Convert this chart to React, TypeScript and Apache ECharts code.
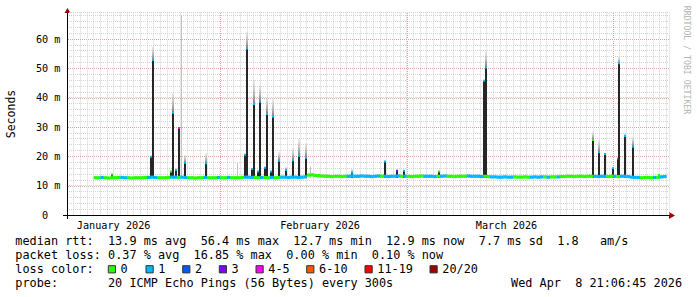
import React, { useEffect, useRef } from 'react';
import * as echarts from 'echarts';

// ---------- data ----------
const lossLabels = ['0', '1', '2', '3', '4-5', '6-10', '11-19', '20/20'];
const lossColors = ['#26ff00', '#00b8ff', '#0059ff', '#7e00ff', '#ff00ff', '#ff5500', '#ff0000', '#a00000'];

// x axis is "days since 2026-01-01 00:00"
const xMinDay = 8;
const xMaxDay = 98.4;
const yMaxMs = 69;
const monthStartDays = [31, 59, 90];
const monthLabelDays = [15, 46, 74];
const monthLabelTexts = ['January 2026', 'February 2026', 'March 2026'];
const yMajorTicks = [10, 20, 30, 40, 50, 60];

// median rtt (ms), one sample per half day starting at day 12
const medianStartDay = 12;
const medianStepDays = 0.5;
const medianValues = [
  12.7, 12.7, 12.8, 12.7, 12.6, 12.7, 12.7, 12.8, 12.8, 12.7, 12.7, 12.6, 12.7, 12.7, 12.7, 12.8,
  12.8, 12.9, 12.8, 12.7, 12.7, 12.7, 12.8, 12.9, 12.9, 12.8, 12.9, 12.8, 12.7, 12.7, 12.6, 12.7,
  12.7, 12.8, 12.7, 12.7, 12.7, 12.8, 12.7, 12.7, 12.8, 12.7, 12.7, 12.7, 12.8, 12.9, 12.9, 12.8,
  12.8, 12.7, 12.8, 12.8, 12.7, 12.8, 12.7, 12.8, 12.9, 12.9, 12.8, 12.9, 12.9, 12.8, 12.9, 13.0,
  13.6, 13.7, 13.5, 13.4, 13.3, 13.2, 13.2, 13.1, 13.2, 13.2, 13.1, 13.2, 13.2, 13.3, 13.2, 13.2,
  13.3, 13.2, 13.2, 13.1, 13.2, 13.3, 13.2, 13.2, 13.1, 13.2, 13.2, 13.3, 13.2, 13.2, 13.2, 13.1,
  13.2, 13.2, 13.3, 13.2, 13.2, 13.2, 13.1, 13.2, 13.2, 13.3, 13.2, 13.2, 13.1, 13.2, 13.2, 13.2,
  13.3, 13.2, 13.2, 13.2, 13.1, 13.2, 13.1, 13.0, 13.0, 12.9, 12.9, 13.0, 12.9, 12.9, 13.0, 12.9,
  12.9, 13.0, 12.9, 12.9, 13.0, 12.9, 13.0, 13.0, 12.9, 13.0, 13.0, 13.0, 13.1, 13.1, 13.2, 13.2,
  13.1, 13.2, 13.2, 13.1, 13.2, 13.2, 13.2, 13.1, 13.2, 13.2, 13.1, 13.2, 13.2, 13.1, 13.2, 13.2,
  13.1, 12.9, 12.8, 12.8, 12.7, 12.8, 12.8, 12.7, 12.8, 12.8, 13.0, 13.1,
];
// lost pings per sample (index into lossColors)
const medianLoss = [
  0, 0, 1, 0, 0, 0, 0, 0, 1, 1, 0, 0, 0, 0, 0, 0, 1, 1, 1, 0,
  0, 0, 0, 1, 1, 0, 1, 1, 0, 0, 0, 0, 0, 1, 0, 0, 0, 1, 0, 0,
  1, 0, 0, 0, 0, 1, 1, 1, 0, 0, 1, 0, 0, 1, 0, 0, 1, 1, 1, 1,
  1, 1, 1, 1, 0, 0, 0, 0, 0, 0, 0, 0, 0, 0, 0, 0, 1, 1, 1, 1,
  1, 1, 1, 1, 1, 1, 0, 1, 1, 1, 1, 1, 0, 1, 0, 0, 0, 0, 0, 1,
  1, 1, 1, 0, 1, 1, 0, 0, 0, 0, 0, 0, 1, 1, 1, 1, 1, 0, 0, 1,
  1, 1, 1, 1, 1, 1, 0, 0, 0, 0, 0, 1, 1, 1, 1, 0, 1, 0, 0, 1,
  0, 0, 0, 0, 0, 0, 0, 0, 0, 0, 1, 1, 1, 1, 0, 0, 1, 0, 1, 1,
  1, 1, 1, 1, 0, 0, 0, 0, 1, 0, 1, 1,
];

// latency spikes: dense smoke up to spikeHighs, faint smoke up to spikeTops (ms)
const spikeBaseMs = 12.6;
const spikeDays = [
  14.78, 20.63, 20.93, 23.64, 23.86, 24.39, 24.84, 25.74, 28.89,
  34.75, 34.97, 35.80, 36.02, 36.70, 36.92, 37.75, 37.97, 38.65, 38.95, 39.85, 40.90, 41.95, 42.87, 43.91,
  50.74, 55.77, 57.57, 58.55, 63.80, 70.63, 70.86,
  87.0, 87.9, 88.8, 90.0, 90.68, 90.9, 91.8, 93.0, 96.9,
];
const spikeHighs = [
  13.8, 19.9, 52.8, 14.8, 34.9, 15.3, 29.7, 17.8, 17.6,
  20.5, 56.8, 15.7, 37.8, 14.8, 38.6, 16.1, 34.4, 14.8, 33.5, 18.5, 15.3, 18.7, 20.2, 19.5,
  14.4, 18.2, 15.1, 15.1, 14.8, 45.8, 50.3,
  25.6, 21.4, 20.8, 15.9, 19.3, 51.7, 26.9, 23.3, 13.6,
];
const spikeTops = [
  14.2, 20.2, 57.5, 15.0, 41.6, 16.0, 30.0, 20.5, 21.1,
  20.5, 62.5, 15.7, 46.0, 14.8, 44.3, 16.1, 40.2, 14.8, 39.5, 21.6, 16.4, 22.8, 26.2, 24.5,
  15.7, 18.4, 15.1, 15.1, 14.8, 46.0, 55.7,
  28.4, 25.6, 21.0, 15.9, 19.3, 54.0, 27.8, 26.7, 13.6,
];
const spikeCapLoss = [
  0, 1, 1, 0, 1, 1, 4, 1, 1,
  1, 1, 1, 1, 1, 1, 1, 1, 1, 1, 1, 1, 1, 1, 1,
  1, 1, 3, 1, 0, 1, 1,
  0, 1, 1, 1, 1, 1, 1, 1, 0,
];
// isolated faint smoke (single slow pings)
const faintDays = [25.06, 33.55, 44.5];
const faintTops = [68.2, 17.7, 16.5];

const statRows = [
  'median rtt:  13.9 ms avg  56.4 ms max  12.7 ms min  12.9 ms now  7.7 ms sd  1.8   am/s',
  'packet loss: 0.37 % avg  16.85 % max  0.00 % min  0.10 % now',
  'loss color:',
  'probe:       20 ICMP Echo Pings (56 Bytes) every 300s',
];
const probeTime = 'Wed Apr  8 21:06:45 2026';
const yAxisTitle = 'Seconds';
const watermark = 'RRDTOOL / TOBI OETIKER';

// ---------- layout ----------
const MONO = '"DejaVu Sans Mono", monospace';
const LEG_FS = 11.85;
const LEG_CW = 7.13;
const LEG_X0 = 15.3;
const ROW_Y = [241, 255, 269, 283];
const lossBoxX = [108.3, 146, 182.7, 219.3, 256, 306.7, 365, 430];

function tokens(line: string, x0: number, y: number) {
  const out: any[] = [];
  const re = /\S+(?: \S+)*/g;
  let m: RegExpExecArray | null;
  while ((m = re.exec(line))) {
    out.push({
      type: 'text',
      x: x0 + m.index * LEG_CW,
      y,
      silent: true,
      style: { text: m[0], font: `${LEG_FS}px ${MONO}`, fill: '#000', verticalAlign: 'middle', align: 'left' },
    });
  }
  return out;
}

const majorColor = '#e3a1a1';
function majorLine(x1: number, y1: number, x2: number, y2: number) {
  return {
    type: 'group',
    children: [
      { type: 'line', shape: { x1, y1, x2, y2 }, style: { stroke: '#fff', lineWidth: 1 } },
      { type: 'line', shape: { x1, y1, x2, y2 }, style: { stroke: majorColor, lineWidth: 1, lineDash: [1, 1] } },
    ],
  };
}

export default function App() {
  const ref = useRef<HTMLDivElement>(null);
  useEffect(() => {
    const chart = echarts.init(ref.current!, null, { renderer: 'svg' });

    const graphics: any[] = [];
    statRows.forEach((row, i) => graphics.push(...tokens(row, LEG_X0, ROW_Y[i])));
    graphics.push(...tokens(probeTime, 511, ROW_Y[3]));
    lossLabels.forEach((lab, i) => {
      graphics.push({
        type: 'rect',
        shape: { x: lossBoxX[i], y: 265.7, width: 7.2, height: 7.2 },
        style: { fill: lossColors[i], stroke: '#333', lineWidth: 1 },
        silent: true,
      });
      graphics.push({
        type: 'text',
        x: lossBoxX[i] + 12.3,
        y: ROW_Y[2],
        silent: true,
        style: { text: lab, font: `${LEG_FS}px ${MONO}`, fill: '#000', verticalAlign: 'middle', align: 'left' },
      });
    });
    graphics.push({
      type: 'text', x: 11, y: 114, rotation: Math.PI / 2, silent: true,
      style: { text: yAxisTitle, font: `11.5px ${MONO}`, fill: '#000', align: 'center', verticalAlign: 'middle' },
    });
    graphics.push({
      type: 'text', x: 686.5, y: 60, rotation: -Math.PI / 2, silent: true,
      style: { text: watermark, font: `8.2px ${MONO}`, fill: '#b4b4b4', align: 'center', verticalAlign: 'middle' },
    });
    // axis extensions and arrows
    graphics.push({ type: 'line', silent: true, shape: { x1: 63, y1: 215.5, x2: 67, y2: 215.5 }, style: { stroke: '#000', lineWidth: 1 } });
    graphics.push({ type: 'line', silent: true, shape: { x1: 67.5, y1: 215, x2: 67.5, y2: 219 }, style: { stroke: '#000', lineWidth: 1 } });
    graphics.push({ type: 'polygon', silent: true, shape: { points: [[669, 212], [675, 215.5], [669, 219]] }, style: { fill: '#a00000' } });
    graphics.push({ type: 'polygon', silent: true, shape: { points: [[64.5, 13], [67.5, 8], [70.5, 13]] }, style: { fill: '#a00000' } });

    const option: any = {
      animation: false,
      backgroundColor: '#fff',
      grid: { left: 67, right: 28, top: 215 - yMaxMs * (176 / 60), bottom: 82, containLabel: false },
      xAxis: {
        type: 'value',
        min: xMinDay,
        max: xMaxDay,
        interval: 1,
        axisLine: { show: true, lineStyle: { color: '#000', width: 1 } },
        axisTick: { show: false },
        splitLine: { show: true, lineStyle: { color: '#d2d2d2', type: [1, 1], width: 1 } },
        axisLabel: {
          show: true,
          margin: 5,
          fontFamily: MONO,
          fontSize: 10.2,
          color: '#000',
          formatter: (v: number) => {
            const i = monthLabelDays.findIndex((d) => Math.abs(d - v) < 1e-6);
            return i >= 0 ? monthLabelTexts[i] : '';
          },
        },
      },
      yAxis: {
        type: 'value',
        min: 0,
        max: yMaxMs,
        interval: 2,
        axisLine: { show: true, lineStyle: { color: '#000', width: 1 } },
        axisTick: { show: false },
        splitLine: { show: true, lineStyle: { color: '#d2d2d2', type: [1, 1], width: 1 } },
        axisLabel: {
          show: true,
          margin: 6.5,
          fontFamily: MONO,
          fontSize: 10.2,
          color: '#000',
          formatter: (v: number) => (v === 0 ? '{z|0}' : v % 10 === 0 ? `${v} m` : ''),
          rich: { z: { fontFamily: MONO, fontSize: 10.2, color: '#000', padding: [0, 12.3, 0, 0] } },
        },
      },
      graphic: graphics,
      series: [
        {
          type: 'custom',
          name: 'month grid',
          silent: true,
          z: 1,
          data: monthStartDays.map((d) => [d, 0]),
          encode: { x: 0, y: 1 },
          renderItem: (_p: any, api: any) => {
            const a = api.coord([api.value(0), 0]);
            const b = api.coord([api.value(0), yMaxMs]);
            const x = Math.round(a[0]) + 0.5;
            return majorLine(x, a[1] - 1, x, b[1]);
          },
        },
        {
          type: 'custom',
          name: 'ms grid',
          silent: true,
          z: 1,
          data: yMajorTicks.map((v) => [xMinDay, v]),
          encode: { x: 0, y: 1 },
          renderItem: (_p: any, api: any) => {
            const a = api.coord([xMinDay, api.value(1)]);
            const b = api.coord([xMaxDay, api.value(1)]);
            const y = Math.round(a[1]) + 0.5;
            return majorLine(a[0] + 1, y, b[0], y);
          },
        },
        {
          type: 'custom',
          name: 'faint smoke',
          silent: true,
          z: 2,
          data: faintDays.map((d, i) => [d, faintTops[i]]),
          encode: { x: 0, y: 1 },
          renderItem: (_p: any, api: any) => {
            const top = api.coord([api.value(0), api.value(1)]);
            const low = api.coord([api.value(0), spikeBaseMs]);
            return { type: 'rect', shape: { x: Math.round(top[0]), y: top[1], width: 1, height: low[1] - top[1] }, style: { fill: '#c2c2c2' } };
          },
        },
        {
          type: 'custom',
          name: 'smoke',
          silent: true,
          z: 3,
          data: spikeDays.map((d, i) => [d, spikeHighs[i], spikeTops[i], spikeCapLoss[i]]),
          encode: { x: 0, y: 1 },
          renderItem: (_p: any, api: any) => {
            const d = api.value(0);
            const pHi = api.coord([d, api.value(1)]);
            const pTop = api.coord([d, api.value(2)]);
            const pLow = api.coord([d, spikeBaseMs]);
            const w = 2;
            const x = Math.round(pHi[0] - w / 2);
            const children: any[] = [];
            if (pHi[1] - pTop[1] > 0.5) {
              children.push({
                type: 'rect',
                shape: { x, y: pTop[1], width: w, height: pHi[1] - pTop[1] },
                style: {
                  fill: new echarts.graphic.LinearGradient(0, 0, 0, 1, [
                    { offset: 0, color: 'rgba(200,200,200,0.3)' },
                    { offset: 1, color: '#7c7c7c' },
                  ]),
                },
              });
            }
            children.push({ type: 'rect', shape: { x, y: pHi[1], width: w, height: pLow[1] - pHi[1] }, style: { fill: '#262626' } });
            children.push({ type: 'rect', shape: { x, y: pHi[1] - 1, width: w, height: 2 }, style: { fill: lossColors[api.value(3)] } });
            return { type: 'group', children };
          },
        },
        {
          type: 'custom',
          name: 'median rtt',
          silent: true,
          z: 4,
          data: medianValues.map((v, i) => [medianStartDay + i * medianStepDays, v, medianLoss[i]]),
          encode: { x: 0, y: 1 },
          renderItem: (_p: any, api: any) => {
            const a = api.coord([api.value(0), api.value(1)]);
            const b = api.coord([api.value(0) + medianStepDays, api.value(1)]);
            return {
              type: 'rect',
              shape: { x: a[0], y: a[1] - 1.6, width: b[0] - a[0] + 0.3, height: 3.2 },
              style: { fill: lossColors[api.value(2)] },
            };
          },
        },
      ],
    };

    chart.setOption(option);
    return () => chart.dispose();
  }, []);

  return <div ref={ref} style={{ position: 'absolute', left: 0, top: 0, width: 697, height: 297, background: '#fff' }} />;
}
